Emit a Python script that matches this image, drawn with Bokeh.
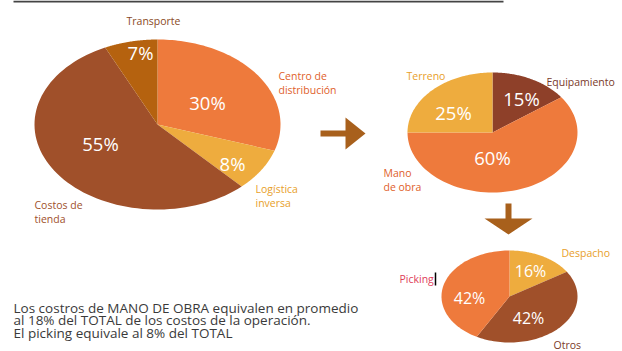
import numpy as np
from bokeh.plotting import figure
from bokeh.models import Range1d
from bokeh.core.properties import value
from bokeh.embed import file_html
from bokeh.resources import INLINE

# --- data -------------------------------------------------------------
total_names = ["Centro de\ndistribución", "Logística\ninversa", "Costos de\ntienda", "Transporte"]
total_values = [30, 8, 55, 7]

cd_names = ["Equipamiento", "Mano\nde obra", "Terreno"]
cd_values = [15, 60, 25]

mo_names = ["Despacho", "Otros", "Picking"]
mo_values = [16, 42, 42]

note_lines = [
    "Los costros de MANO DE OBRA equivalen en promedio",
    "al 18% del TOTAL de los costos de la operación.",
    "El picking equivale al 8% del TOTAL",
]

# --- palette ----------------------------------------------------------
ORANGE = "#ee7a3c"
YELLOW = "#eeac3e"
BROWN = "#a0502a"
GOLD = "#b5620f"
DKBROWN = "#8e4029"
ARROW = "#a8601c"
FONT = "Open Sans"
SMALL = 10.5

W, H = 622, 351
p = figure(width=W, height=H, output_backend="svg", toolbar_location=None,
           x_range=Range1d(0, W), y_range=Range1d(H, 0),
           min_border=0, border_fill_color="white", background_fill_color="white")
p.axis.visible = False
p.grid.visible = False
p.outline_line_color = None


def ellipse_pie(cx, cy, rx, ry, values, colors):
    """Slices start at 12 o'clock and run clockwise (screen y points down)."""
    total = float(sum(values))
    edges = np.concatenate([[0.0], np.cumsum(values) / total]) * 2 * np.pi
    xs, ys = [], []
    for a0, a1 in zip(edges[:-1], edges[1:]):
        t = np.linspace(a0, a1, 80)
        xs.append(np.concatenate([[cx], cx + rx * np.sin(t)]).tolist())
        ys.append(np.concatenate([[cy], cy - ry * np.cos(t)]).tolist())
    p.patches(xs, ys, fill_color=colors, line_color=None)


def label(x, y, txt, color, size, align="left", style="normal", lh=1.1):
    p.text(x=[x], y=[y], text=[txt], text_color=color, text_font=value(FONT),
           text_font_size=f"{size}px", text_align=align, text_baseline="middle",
           text_font_style=style, text_line_height=lh)


# top rule
p.line([13, 503], [1, 1], line_color="#444444", line_width=2)

# --- big pie: total costs -------------------------------------------
ellipse_pie(157, 124, 123, 85, total_values, [ORANGE, YELLOW, BROWN, GOLD])
pct_pos = [(207, 102), (232, 163), (100, 143), (140, 52)]
for (x, y), v in zip(pct_pos, total_values):
    label(x, y, f"{v}%", "white", 18.5, "center")
label(153, 20, total_names[3], "#8a4a1e", SMALL, "center")
label(278, 82, total_names[0], "#e0602a", SMALL, lh=1.0)
label(255, 195, total_names[1], "#e8a02a", SMALL, lh=1.0)
label(34, 211, total_names[2], BROWN, SMALL, lh=1.0)

# arrow right
p.patches([[320, 345, 345, 365, 345, 345, 320]],
          [[130, 130, 117, 133, 149, 136, 136]],
          fill_color=ARROW, line_color=None)

# --- middle pie: distribution centre --------------------------------
ellipse_pie(492, 132, 85, 60, cd_values, [DKBROWN, ORANGE, YELLOW])
for (x, y), v in zip([(521, 98), (492, 157), (453, 112)], cd_values):
    label(x, y, f"{v}%", "white", 18.5, "center")
label(546, 81, cd_names[0], "#7a3a2a", SMALL)
label(383, 179, cd_names[1], "#e0602a", SMALL, lh=1.0)
label(406, 75, cd_names[2], "#e8a02a", SMALL)

# arrow down
p.patches([[505, 511, 511, 532, 508, 484, 505]],
          [[203, 203, 218, 218, 234, 218, 218]],
          fill_color=ARROW, line_color=None)

# --- small pie: labour ----------------------------------------------
ellipse_pie(509, 296, 68, 46, mo_values, [YELLOW, BROWN, ORANGE])
for (x, y), v in zip([(530, 270), (528, 317), (469, 297)], mo_values):
    label(x, y, f"{v}%", "white", 16, "center")
label(561, 252, mo_names[0], "#e8a02a", SMALL)
label(553, 344, mo_names[1], "#7a3a2a", SMALL)
label(399, 278, mo_names[2], "#e0405a", SMALL)
p.line([435, 435], [272, 285], line_color="black", line_width=1.5)

# --- note -------------------------------------------------------------
for i, line in enumerate(note_lines):
    label(13, 307 + i * 12.5, line, "#3a3a3a", 13.5)

open("out.html", "w").write(file_html(p, INLINE))
